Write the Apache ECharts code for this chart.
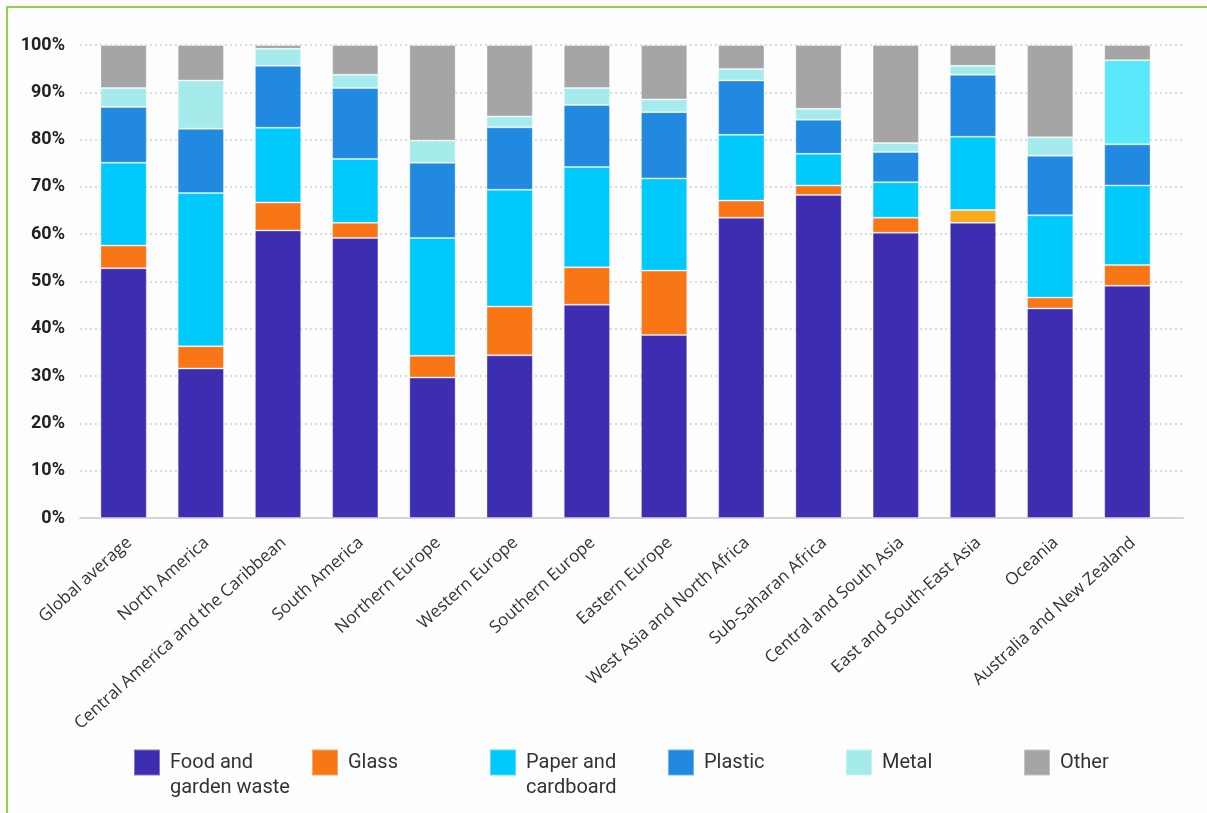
<!DOCTYPE html>
<html>
<head>
<meta charset="utf-8">
<script src="https://cdn.jsdelivr.net/npm/echarts@6/dist/echarts.min.js"></script>
<style>
  html, body { margin: 0; padding: 0; background: #fdfdfd; }
  #chart { position: absolute; left: 0; top: 0; width: 1207px; height: 813px; }
  #frame { position: absolute; left: 6px; top: 6px; width: 1207px; height: 805px;
           border-left: 2px solid #92d050; border-top: 2px solid #92d050;
           border-bottom: 1px solid #e6f3da; pointer-events: none; }
</style>
</head>
<body>
<div id="chart"></div>
<div id="frame"></div>
<script>
const categories = ["Global average", "North America", "Central America and the Caribbean", "South America",
  "Northern Europe", "Western Europe", "Southern Europe", "Eastern Europe", "West Asia and North Africa",
  "Sub-Saharan Africa", "Central and South Asia", "East and South-East Asia", "Oceania", "Australia and New Zealand"];

const food    = [52.8, 31.6, 60.8, 59.2, 29.7, 34.4, 45.1, 38.7, 63.5, 68.3, 60.3, 62.4, 44.3, 49.1];
const glass   = [4.8, 4.7, 5.9, 3.2, 4.6, 10.3, 7.9, 13.6, 3.6, 2.0, 3.2, 2.7, 2.3, 4.4];
const paper   = [17.5, 32.4, 15.8, 13.5, 24.9, 24.7, 21.2, 19.5, 13.9, 6.7, 7.5, 15.5, 17.4, 16.8];
const plastic = [11.8, 13.6, 13.1, 15.0, 15.9, 13.2, 13.1, 14.0, 11.5, 7.2, 6.4, 13.1, 12.6, 8.7];
const metal   = [4.0, 10.2, 3.6, 2.8, 4.7, 2.3, 3.6, 2.7, 2.4, 2.3, 1.9, 1.9, 3.9, 17.8];
const other   = [9.1, 7.5, 0.8, 6.3, 20.2, 15.1, 9.1, 11.5, 5.1, 13.5, 20.7, 4.4, 19.5, 3.2];

const seriesNames = ["Food and garden waste", "Glass", "Paper and cardboard", "Plastic", "Metal", "Other"];
const legendLabels = [" \nFood and\ngarden waste", " \nGlass\n ", " \nPaper and\ncardboard", " \nPlastic\n ", " \nMetal\n ", " \nOther\n "];
const yTicks = [0, 10, 20, 30, 40, 50, 60, 70, 80, 90, 100];

const colors = ["#3d2db0", "#f97617", "#00c9fb", "#2289e0", "#a6ebeb", "#a5a5a5"];
// individual bar colour overrides seen in the picture: [seriesIndex, categoryIndex, colour]
const overrides = [[1, 11, "#f9ab20"], [4, 13, "#5ce8fb"]];

const values = [food, glass, paper, plastic, metal, other];

const series = values.map((arr, si) => ({
  name: seriesNames[si],
  type: 'bar',
  stack: 'total',
  xAxisIndex: 1,
  yAxisIndex: 1,
  barWidth: '60%',
  itemStyle: { color: colors[si], borderColor: 'rgba(255,255,255,0.35)', borderWidth: 1 },
  data: arr.map((v, ci) => {
    const o = overrides.find(x => x[0] === si && x[1] === ci);
    return o ? { value: v, itemStyle: { color: o[2] } } : v;
  })
}));

const chart = echarts.init(document.getElementById('chart'), null, { renderer: 'canvas' });
chart.setOption({
  animation: false,
  backgroundColor: 'transparent',
  grid: [
    { left: 80, right: 24, top: 45, bottom: 295 },
    { left: 85, right: 41, top: 45, bottom: 295 }
  ],
  xAxis: [
    { gridIndex: 0, type: 'value', min: 0, max: 1,
      axisLine: { show: true, lineStyle: { color: '#d4d4d4', width: 2 } },
      axisTick: { show: false }, axisLabel: { show: false }, splitLine: { show: false } },
    { gridIndex: 1, type: 'category', data: categories,
      axisLine: { show: false }, axisTick: { show: false },
      axisLabel: { rotate: 42, margin: 16, interval: 0, verticalAlign: 'top',
                   fontFamily: 'Open Sans', fontSize: 17, color: '#333' } }
  ],
  yAxis: [
    { gridIndex: 0, type: 'value', min: 0, max: 100, interval: 10,
      axisLine: { show: false }, axisTick: { show: false },
      axisLabel: { margin: 15, formatter: v => yTicks.includes(v) ? v + '%' : '',
                   fontFamily: 'Roboto', fontWeight: 'bold', fontSize: 18, color: '#222' },
      splitLine: { show: true, lineStyle: { color: '#cfcfcf', type: [2, 3], width: 1.5 } } },
    { gridIndex: 1, type: 'value', min: 0, max: 100, interval: 10, show: false,
      splitLine: { show: false } }
  ],
  legend: {
    left: 128,
    top: 720,
    itemWidth: 26,
    itemHeight: 26,
    itemGap: 5,
    icon: 'rect',
    data: seriesNames,
    formatter: name => legendLabels[seriesNames.indexOf(name)],
    textStyle: { fontFamily: 'Roboto', fontSize: 20, color: '#333', lineHeight: 25,
                 width: 136, padding: [0, 0, 0, 5] }
  },
  series: series
});
</script>
</body>
</html>
